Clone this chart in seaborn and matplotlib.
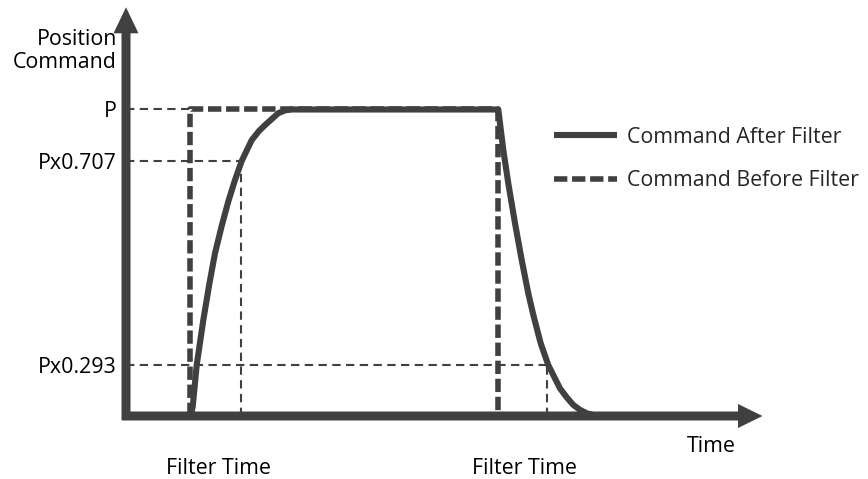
import numpy as np
import pandas as pd
import matplotlib
matplotlib.use('Agg')
import matplotlib.pyplot as plt
import seaborn as sns

#%% Data (schematic units: 1 time unit = one step on the axis, P = 1.0)

level_values = [1.0, 0.833, 0.168]
level_labels = ['P', 'Px0.707', 'Px0.293']

t_on = 1.28
t_off = 7.43
t_rise_cross = 2.29
t_fall_cross = 8.41

# command before filter (step)
before_t = [t_on, t_on, t_off, t_off]
before_y = [0.0, 1.0, 1.0, 0.0]

# command after filter
rise_t = [1.29, 1.334, 1.414, 1.546, 1.666, 1.78, 1.914, 2.046, 2.18, 2.314,
          2.514, 2.66, 2.78, 3.046, 3.18, 3.314]
rise_y = [0.0, 0.030, 0.166, 0.313, 0.430, 0.531, 0.620, 0.700, 0.770, 0.832,
          0.900, 0.930, 0.949, 0.988, 0.997, 1.0]
fall_t = [7.446, 7.546, 7.646, 7.78, 7.914, 8.046, 8.146, 8.294, 8.446, 8.68,
          8.814, 8.946, 9.08, 9.214, 9.42, 9.8]
fall_y = [1.0, 0.868, 0.759, 0.629, 0.509, 0.400, 0.330, 0.237, 0.166, 0.090,
          0.061, 0.036, 0.020, 0.009, 0.0, 0.0]

filter_tick_t = [1.84, 7.96]
filter_tick_labels = ['Filter Time', 'Filter Time']

legend_labels = ['Command After Filter', 'Command Before Filter']

#%% Style

sns.set_style('white')
plt.rcParams['font.family'] = ['Open Sans', 'DejaVu Sans']
col = '#404040'
fs = 15.4

#%% Figure

fig = plt.figure(figsize=(8.68, 4.79), dpi=100)
ax = fig.add_axes([126 / 868, 63 / 479, 636.5 / 868, 408.7 / 479])
ax.set_xlim(0, 12.73)
ax.set_ylim(0, 1.3334)
for s in ax.spines.values():
    s.set_visible(False)

# thin guide lines
thin = dict(color=col, lw=1.5, ls=(0, (4, 2.6)), zorder=1)
ax.plot([0, t_on], [level_values[0]] * 2, **thin)
ax.plot([0, t_rise_cross], [level_values[1]] * 2, **thin)
ax.plot([0, t_fall_cross], [level_values[2]] * 2, **thin)
ax.plot([t_rise_cross] * 2, [0, level_values[1]], **thin)
ax.plot([t_fall_cross] * 2, [0, level_values[2]], **thin)

after = pd.DataFrame({'t': rise_t + fall_t, 'y': rise_y + fall_y})
before = pd.DataFrame({'t': before_t, 'y': before_y})

sns.lineplot(data=before, x='t', y='y', sort=False, estimator=None, ax=ax,
             color=col, lw=4.0, ls=(0, (2.4, 0.85)), label=legend_labels[1], zorder=2)
sns.lineplot(data=after, x='t', y='y', sort=False, estimator=None, ax=ax,
             color=col, lw=4.4, label=legend_labels[0], zorder=3,
             solid_capstyle='butt', solid_joinstyle='round')

# axes with arrows
ax.arrow(-0.08, 0, 12.81, 0, width=9 / 306.5, head_width=24 / 306.5, head_length=24.5 / 50,
         length_includes_head=True, color=col, lw=0, clip_on=False, zorder=4)
ax.arrow(0, -4 / 306.5, 0, 1.3334 + 4 / 306.5, width=9 / 50, head_width=25 / 50, head_length=26 / 306.5,
         length_includes_head=True, color=col, lw=0, clip_on=False, zorder=4)

ax.set_yticks(level_values, level_labels)
ax.set_xticks(filter_tick_t, filter_tick_labels)
ax.tick_params(axis='y', length=0, pad=7, labelsize=fs, labelcolor='black')
ax.tick_params(axis='x', length=0, pad=30, labelsize=fs, labelcolor='black')
ax.set_xlabel('')
ax.set_ylabel('')

ax.text(-0.18, 1.191, 'Position\nCommand', ha='right', va='center', fontsize=fs,
        linespacing=1.1, multialignment='right', color='black')
ax.text(11.7, -0.098, 'Time', ha='center', va='center', fontsize=fs, color='black')

handles, labels = ax.get_legend_handles_labels()
order = [labels.index(l) for l in legend_labels]
ax.legend([handles[i] for i in order], [labels[i] for i in order],
          loc='center left', bbox_to_anchor=(554 / 868, 1 - 159 / 479),
          bbox_transform=fig.transFigure, frameon=False, fontsize=fs,
          handlelength=2.95, handletextpad=0.45, labelspacing=1.05,
          borderpad=0, borderaxespad=0)

fig.savefig('out.png', dpi=100)
